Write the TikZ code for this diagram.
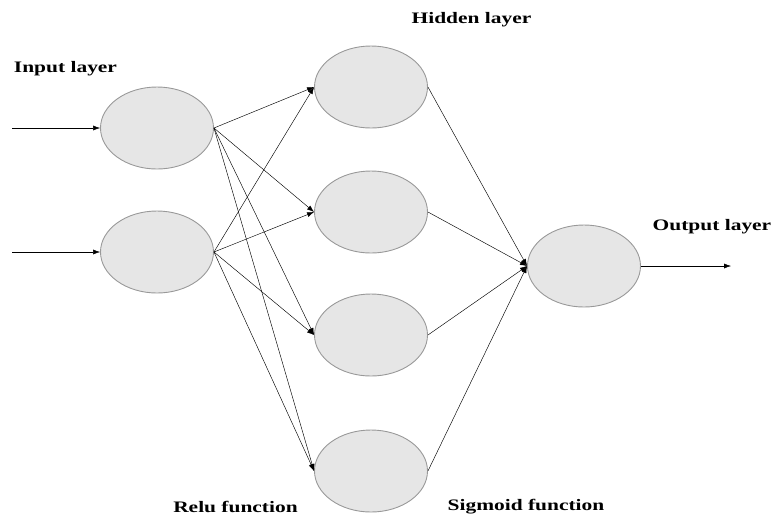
\documentclass[tikz,border=0pt]{standalone}
\usepackage{fontspec}
\setmainfont{Liberation Serif}[FakeStretch=1.34]
\usetikzlibrary{shapes.geometric}
\usetikzlibrary{arrows.meta}
\definecolor{nodefill}{HTML}{E6E6E6}
\definecolor{nodeline}{HTML}{999999}
\tikzstyle{neuron}=[ellipse,fill=nodefill,draw=nodeline,line width=0.9pt,minimum width=113pt,minimum height=82pt,inner sep=0pt]
\tikzstyle{edge} = [draw,line width=0.45pt,-{Latex[length=7pt,width=5pt]}]
\tikzstyle{title} = [font=\fontsize{16}{18}\selectfont\bfseries,inner sep=0pt]

\begin{document}
\begin{tikzpicture}[x=1pt,y=-1pt]
    \useasboundingbox (0,0) rectangle (774,515);
    % the neurons of each layer
    \foreach \pos/\name in {{(157,128)/i1}, {(157,252)/i2}, {(371,87)/h1}, {(371,212)/h2}, {(371,335)/h3}, {(371,471)/h4}, {(584,266)/o}}
            \node[neuron] (\name) at \pos {};

    % free ends of the in and out arrows
    \coordinate (x1) at (12,128);
    \coordinate (x2) at (12,252);
    \coordinate (y) at (731,266);

    % connect the layers
  \foreach \source/ \dest in {x1/i1, x2/i2}
        \draw[edge] (\source) -- (\dest.west);
  \foreach \source in {i1,i2}
    \foreach \dest in {h1,h2,h3,h4}
        \draw[edge] (\source.east) -- (\dest.west);
  \foreach \source in {h1,h2,h3,h4}
        \draw[edge] (\source.east) -- (o.west);
  \draw[edge] (o.east) -- (y);

    % labels
    \node[title] (lin) at (65.5,69) {Input layer};
    \node[title] (lhid) at (471.5,20) {Hidden layer};
    \node[title] (lout) at (712,227) {Output layer};
    \node[title] (lrelu) at (235.5,507) {Relu function};
    \node[title] (lsig) at (526,507) {Sigmoid function};
   \end{tikzpicture}
\end{document}
